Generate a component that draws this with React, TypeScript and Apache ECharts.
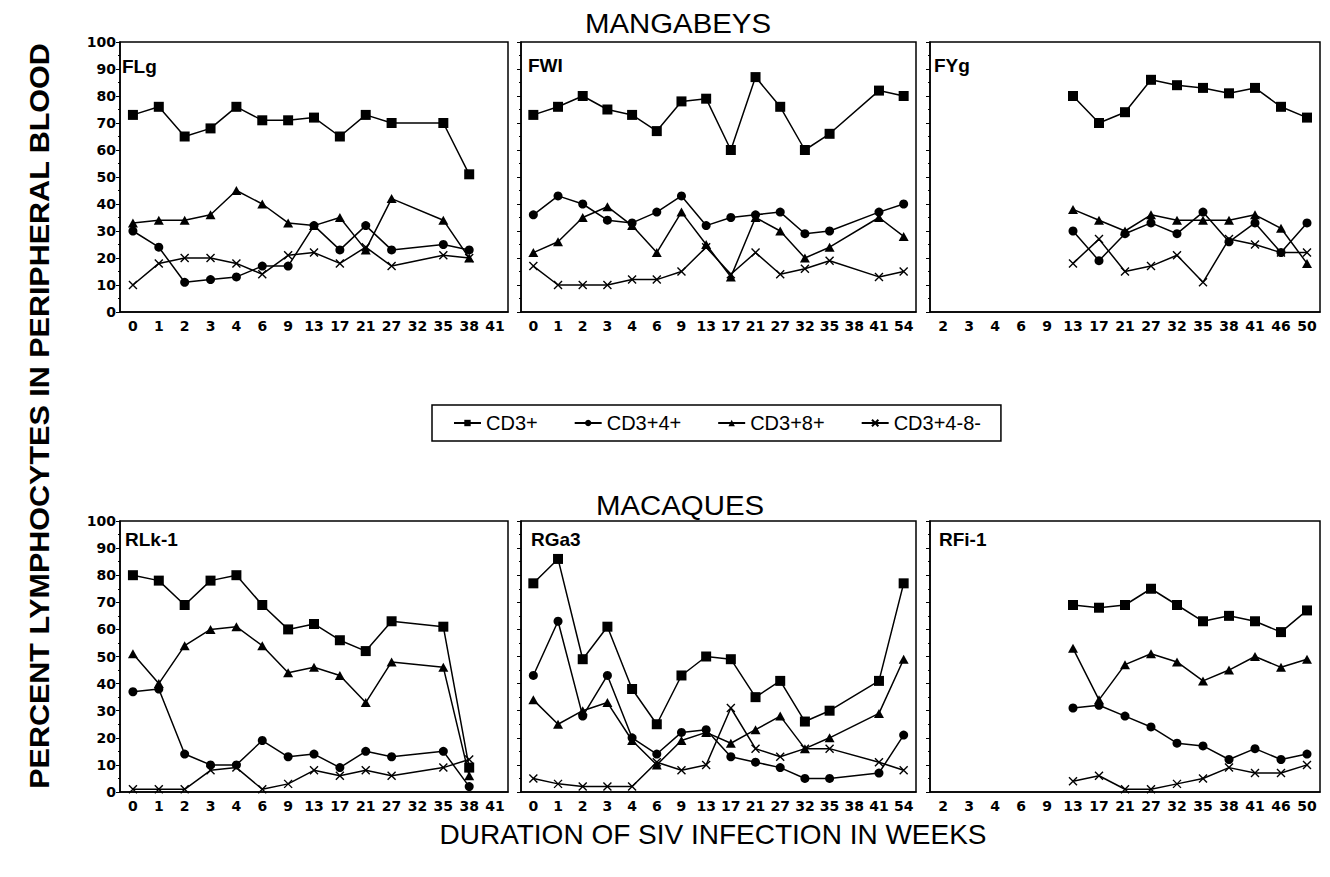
import React, { useEffect, useRef } from 'react';
import * as echarts from 'echarts';

// Week categories for each set of panels
const weeksA = ['0', '1', '2', '3', '4', '6', '9', '13', '17', '21', '27', '32', '35', '38', '41'];
const weeksB = ['0', '1', '2', '3', '4', '6', '9', '13', '17', '21', '27', '32', '35', '38', '41', '54'];
const weeksC = ['2', '3', '4', '6', '9', '13', '17', '21', '27', '32', '35', '38', '41', '46', '50'];

const seriesNames = ['CD3+', 'CD3+4+', 'CD3+8+', 'CD3+4-8-'];

// Mangabeys
const flgCd3 = [73, 76, 65, 68, 76, 71, 71, 72, 65, 73, 70, null, 70, 51, null];
const flgCd4 = [30, 24, 11, 12, 13, 17, 17, 32, 23, 32, 23, null, 25, 23, null];
const flgCd8 = [33, 34, 34, 36, 45, 40, 33, 32, 35, 23, 42, null, 34, 20, null];
const flgDn = [10, 18, 20, 20, 18, 14, 21, 22, 18, 24, 17, null, 21, 20, null];

const fwiCd3 = [73, 76, 80, 75, 73, 67, 78, 79, 60, 87, 76, 60, 66, null, 82, 80];
const fwiCd4 = [36, 43, 40, 34, 33, 37, 43, 32, 35, 36, 37, 29, 30, null, 37, 40];
const fwiCd8 = [22, 26, 35, 39, 32, 22, 37, 25, 13, 35, 30, 20, 24, null, 35, 28];
const fwiDn = [17, 10, 10, 10, 12, 12, 15, 24, 14, 22, 14, 16, 19, null, 13, 15];

const fygCd3 = [null, null, null, null, null, 80, 70, 74, 86, 84, 83, 81, 83, 76, 72];
const fygCd4 = [null, null, null, null, null, 30, 19, 29, 33, 29, 37, 26, 33, 22, 33];
const fygCd8 = [null, null, null, null, null, 38, 34, 30, 36, 34, 34, 34, 36, 31, 18];
const fygDn = [null, null, null, null, null, 18, 27, 15, 17, 21, 11, 27, 25, 22, 22];

// Macaques
const rlkCd3 = [80, 78, 69, 78, 80, 69, 60, 62, 56, 52, 63, null, 61, 9, null];
const rlkCd4 = [37, 38, 14, 10, 10, 19, 13, 14, 9, 15, 13, null, 15, 2, null];
const rlkCd8 = [51, 40, 54, 60, 61, 54, 44, 46, 43, 33, 48, null, 46, 6, null];
const rlkDn = [1, 1, 1, 8, 9, 1, 3, 8, 6, 8, 6, null, 9, 12, null];

const rgaCd3 = [77, 86, 49, 61, 38, 25, 43, 50, 49, 35, 41, 26, 30, null, 41, 77];
const rgaCd4 = [43, 63, 28, 43, 20, 14, 22, 23, 13, 11, 9, 5, 5, null, 7, 21];
const rgaCd8 = [34, 25, 30, 33, 19, 10, 19, 22, 18, 23, 28, 16, 20, null, 29, 49];
const rgaDn = [5, 3, 2, 2, 2, 11, 8, 10, 31, 16, 13, 16, 16, null, 11, 8];

const rfiCd3 = [null, null, null, null, null, 69, 68, 69, 75, 69, 63, 65, 63, 59, 67];
const rfiCd4 = [null, null, null, null, null, 31, 32, 28, 24, 18, 17, 12, 16, 12, 14];
const rfiCd8 = [null, null, null, null, null, 53, 34, 47, 51, 48, 41, 45, 50, 46, 49];
const rfiDn = [null, null, null, null, null, 4, 6, 1, 1, 3, 5, 9, 7, 7, 10];

const panels = [
  { label: 'FLg', weeks: weeksA, values: [flgCd3, flgCd4, flgCd8, flgDn] },
  { label: 'FWI', weeks: weeksB, values: [fwiCd3, fwiCd4, fwiCd8, fwiDn] },
  { label: 'FYg', weeks: weeksC, values: [fygCd3, fygCd4, fygCd8, fygDn] },
  { label: 'RLk-1', weeks: weeksA, values: [rlkCd3, rlkCd4, rlkCd8, rlkDn] },
  { label: 'RGa3', weeks: weeksB, values: [rgaCd3, rgaCd4, rgaCd8, rgaDn] },
  { label: 'RFi-1', weeks: weeksC, values: [rfiCd3, rfiCd4, rfiCd8, rfiDn] },
];

// Layout of the six plot boxes (pixels)
const boxes = [
  { left: 120, top: 42, width: 388, height: 270, lx: 122, ly: 57 },
  { left: 521, top: 42, width: 395, height: 270, lx: 528, ly: 56 },
  { left: 930, top: 42, width: 390, height: 270, lx: 934, ly: 56 },
  { left: 120, top: 521, width: 388, height: 271, lx: 125, ly: 530 },
  { left: 521, top: 521, width: 395, height: 271, lx: 531, ly: 530 },
  { left: 930, top: 521, width: 390, height: 271, lx: 939, ly: 530 },
];

const CROSS = 'path://M0,0L10,10M0,10L10,0';
const SANS = '"Liberation Sans", Arial, Helvetica, sans-serif';
const TICK_FONT = '"DejaVu Sans", sans-serif';

const markerFor = (k: number) => {
  switch (k) {
    case 0:
      return { symbol: 'rect', symbolSize: 10, itemStyle: { color: '#000' } };
    case 1:
      return { symbol: 'circle', symbolSize: 9, itemStyle: { color: '#000' } };
    case 2:
      return { symbol: 'triangle', symbolSize: [10, 9], itemStyle: { color: '#000' } };
    default:
      return {
        symbol: CROSS,
        symbolSize: 8,
        itemStyle: { color: '#000', borderColor: '#000', borderWidth: 1.4 },
      };
  }
};

export default function App() {
  const ref = useRef<HTMLDivElement>(null);

  useEffect(() => {
    if (!ref.current) return;
    const chart = echarts.init(ref.current, undefined, { renderer: 'svg' });

    const grids: any[] = [];
    const xAxes: any[] = [];
    const yAxes: any[] = [];
    const series: any[] = [];
    const graphic: any[] = [];

    panels.forEach((p, i) => {
      const b = boxes[i];
      grids.push({
        left: b.left,
        top: b.top,
        width: b.width,
        height: b.height,
        show: true,
        borderColor: '#000',
        borderWidth: 1.5,
        backgroundColor: 'transparent',
      });
      xAxes.push({
        type: 'category',
        gridIndex: i,
        data: p.weeks,
        boundaryGap: true,
        axisLine: { show: true, lineStyle: { color: '#000', width: 1.5 } },
        axisTick: { show: false },
        splitLine: { show: false },
        axisLabel: {
          interval: 0,
          color: '#000',
          fontFamily: TICK_FONT,
          fontWeight: 'bold',
          fontSize: 14,
          margin: 7,
        },
      });
      yAxes.push({
        type: 'value',
        gridIndex: i,
        min: 0,
        max: 100,
        interval: 10,
        axisLine: { show: true, lineStyle: { color: '#000', width: 1.5 } },
        axisTick: { show: true, length: 4, lineStyle: { color: '#000', width: 1 } },
        minorTick: { show: true, splitNumber: 2, length: 2, lineStyle: { color: '#000', width: 1 } },
        splitLine: { show: false },
        minorSplitLine: { show: false },
        axisLabel: {
          show: i % 3 === 0,
          color: '#000',
          fontFamily: TICK_FONT,
          fontWeight: 'bold',
          fontSize: 14,
          margin: 4,
        },
      });
      p.values.forEach((vals, k) => {
        series.push({
          type: 'line',
          name: seriesNames[k],
          xAxisIndex: i,
          yAxisIndex: i,
          data: vals.map((v) => (v === null ? '-' : v)),
          connectNulls: true,
          showAllSymbol: true,
          lineStyle: { color: '#000', width: 1.5 },
          ...markerFor(k),
        });
      });
      graphic.push({
        type: 'text',
        x: b.lx,
        y: b.ly,
        style: {
          text: p.label,
          fill: '#000',
          font: `bold 19px ${SANS}`,
          textAlign: 'left',
          textVerticalAlign: 'top',
        },
      });
    });

    graphic.push(
      {
        type: 'text',
        x: 678,
        y: 23,
        scaleX: 1.05,
        style: {
          text: 'MANGABEYS',
          fill: '#000',
          font: `28px ${SANS}`,
          textAlign: 'center',
          textVerticalAlign: 'middle',
        },
      },
      {
        type: 'text',
        x: 680,
        y: 505,
        scaleX: 1.05,
        style: {
          text: 'MACAQUES',
          fill: '#000',
          font: `28px ${SANS}`,
          textAlign: 'center',
          textVerticalAlign: 'middle',
        },
      },
      {
        type: 'text',
        x: 713,
        y: 834,
        style: {
          text: 'DURATION OF SIV INFECTION IN WEEKS',
          fill: '#000',
          font: `28px ${SANS}`,
          textAlign: 'center',
          textVerticalAlign: 'middle',
        },
      },
      {
        type: 'text',
        x: 39,
        y: 416,
        rotation: Math.PI / 2,
        scaleX: 1.09,
        style: {
          text: 'PERCENT LYMPHOCYTES IN PERIPHERAL BLOOD',
          fill: '#000',
          font: `bold 28px ${SANS}`,
          textAlign: 'center',
          textVerticalAlign: 'middle',
        },
      }
    );

    chart.setOption({
      animation: false,
      backgroundColor: '#fff',
      legend: {
        data: seriesNames,
        left: 432,
        top: 405,
        orient: 'horizontal',
        padding: [8, 20, 8, 21],
        itemGap: 36,
        itemWidth: 27,
        itemHeight: 8,
        borderColor: '#000',
        borderWidth: 1.5,
        textStyle: { color: '#000', fontFamily: SANS, fontSize: 20 },
      },
      grid: grids,
      xAxis: xAxes,
      yAxis: yAxes,
      series,
      graphic,
    });

    return () => chart.dispose();
  }, []);

  return (
    <div
      ref={ref}
      style={{ position: 'fixed', left: 0, top: 0, width: 1330, height: 877, background: '#fff' }}
    />
  );
}
